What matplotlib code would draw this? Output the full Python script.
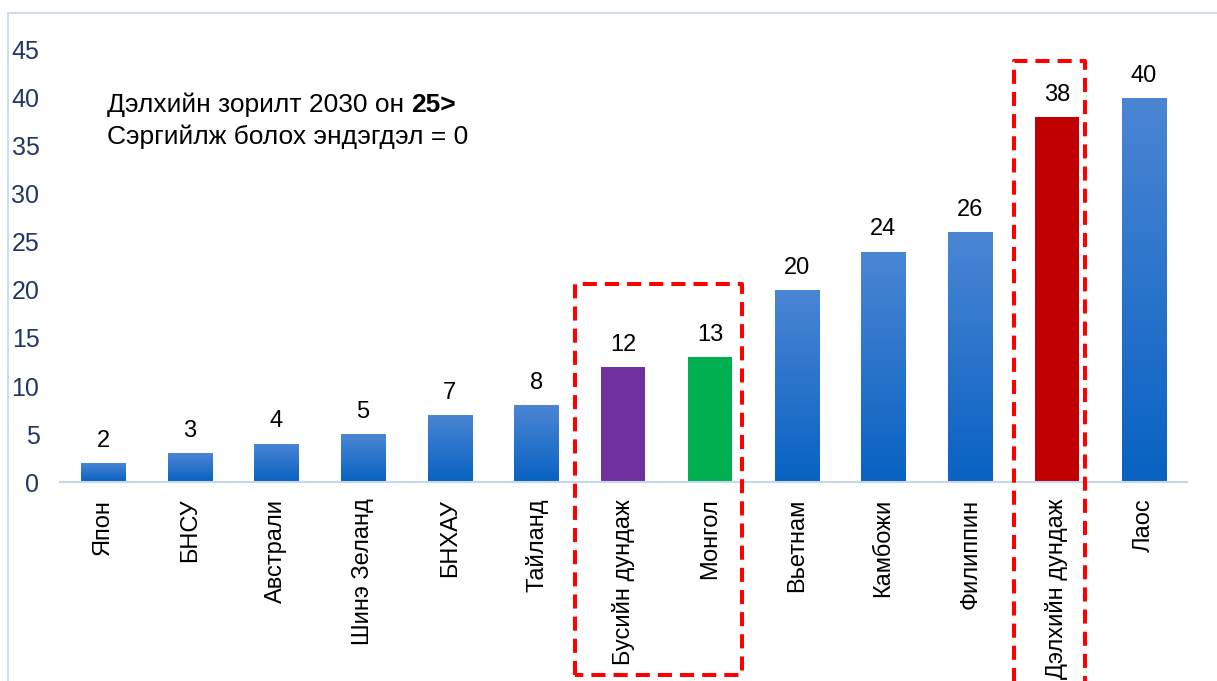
import matplotlib
matplotlib.use("Agg")
import matplotlib.pyplot as plt
import numpy as np
from matplotlib.patches import Rectangle
from matplotlib.colors import LinearSegmentedColormap

categories = ["Япон", "БНСУ", "Австрали", "Шинэ Зеланд", "БНХАУ", "Тайланд",
              "Бусийн дундаж", "Монгол", "Вьетнам", "Камбожи", "Филиппин",
              "Дэлхийн дундаж", "Лаос"]
values = [2, 3, 4, 5, 7, 8, 12, 13, 20, 24, 26, 38, 40]
solid_colors = {6: "#7030A0", 7: "#00B050", 11: "#C00000"}
yticks = [0, 5, 10, 15, 20, 25, 30, 35, 40, 45]

plt.rcParams['font.family'] = ['Liberation Sans', 'DejaVu Sans']
FS = 17
FS_Y = 18
FS_NOTE = 19

W, H = 1217, 681
fig = plt.figure(figsize=(W / 100, H / 100), dpi=100)

# outer light frame
fig.patches.append(Rectangle((8 / W, -0.1), 1.2, 1 - 13 / H + 0.1,
                             transform=fig.transFigure, fill=False,
                             edgecolor="#C9DCF0", linewidth=1.5))

left, right = 59.6 / W, 1187 / W
bottom, top = (H - 482) / H, (H - 50) / H
ax = fig.add_axes([left, bottom, right - left, top - bottom])

x = np.arange(len(categories))
bars = ax.bar(x, values, width=0.51, color="none", edgecolor="none", zorder=2)

cmap = LinearSegmentedColormap.from_list("g", ["#0862C2", "#4B86D4"])
grad = np.linspace(0, 1, 256).reshape(-1, 1)
for i, b in enumerate(bars):
    if i in solid_colors:
        b.set_facecolor(solid_colors[i])
    else:
        bx, by = b.get_x(), b.get_y()
        bw, bh = b.get_width(), b.get_height()
        im = ax.imshow(grad, cmap=cmap, aspect="auto", origin="lower",
                       extent=[bx, bx + bw, by, by + bh], zorder=2)
        im.set_clip_path(b)

for xi, v in zip(x, values):
    ax.annotate(str(v), (xi, v), xytext=(0, 8), textcoords="offset points",
                ha="center", va="bottom", fontsize=FS, color="black")

ax.set_xlim(-0.5, len(categories) - 0.5)
ax.set_ylim(0, 45)
ax.set_yticks(yticks)
ax.set_yticklabels([str(t) for t in yticks], fontsize=FS_Y, color="#203864")
ax.set_xticks(x)
ax.set_xticklabels(categories, rotation=90, fontsize=FS, color="black",
                   va="top", ha="center")
ax.tick_params(axis="both", length=0)
ax.tick_params(axis="y", pad=14.5)
ax.tick_params(axis="x", pad=12)
for s in ["top", "right", "left"]:
    ax.spines[s].set_visible(False)
ax.spines["bottom"].set_color("#C5D7EC")
ax.spines["bottom"].set_linewidth(1.5)

t1 = ax.text(0.042, 0.8727, "Дэлхийн зорилт 2030 он ", transform=ax.transAxes,
             fontsize=FS_NOTE, va="center", ha="left")
ax.annotate("25>", xy=(1, 0.5), xycoords=t1, va="center", ha="left",
            fontsize=FS_NOTE, fontweight="bold")
ax.text(0.042, 0.7986, "Сэргийлж болох эндэгдэл = 0", transform=ax.transAxes,
        fontsize=FS_NOTE, va="center", ha="left")

# dashed highlight boxes
for (x0, x1, y0, y1) in [(5.44, 7.37, -20.1, 20.6), (10.5, 11.32, -25, 43.85)]:
    ax.plot([x0, x0, x1, x1, x0], [y0, y1, y1, y0, y0], color="#FF0000",
            linewidth=2.9, linestyle=(0, (3.5, 2.0)), solid_joinstyle="round",
            dash_joinstyle="round", clip_on=False, zorder=5)

fig.savefig("out.png", dpi=100)
